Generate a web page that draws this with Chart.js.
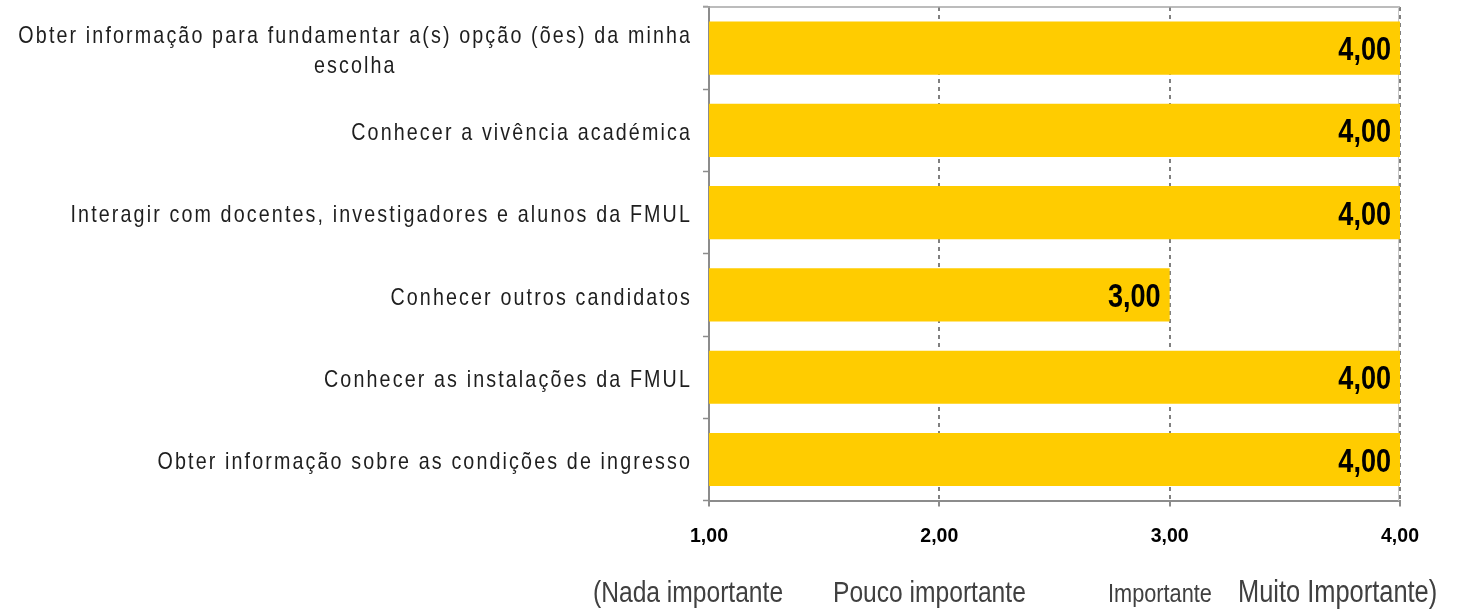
<!DOCTYPE html>
<html>
<head>
<meta charset="utf-8">
<script src="https://cdn.jsdelivr.net/npm/chart.js@4/dist/chart.umd.min.js"></script>
<style>
  html, body { margin: 0; padding: 0; background: #fff; }
  #wrap { width: 1458px; height: 609px; }
</style>
</head>
<body>
<div id="wrap"><canvas id="myChart"></canvas></div>
<script>
// data
const categories = [
    ['Obter informação para fundamentar a(s) opção (ões) da minha', 'escolha'],
    'Conhecer a vivência académica',
    'Interagir com docentes, investigadores e alunos da FMUL',
    'Conhecer outros candidatos',
    'Conhecer as instalações da FMUL',
    'Obter informação sobre as condições de ingresso'
];
const values = [4, 4, 4, 3, 4, 4];
const tickValues = [1, 2, 3, 4];
const scaleNotes = ['(Nada importante', 'Pouco importante', 'Importante', 'Muito Importante)'];

const FONT = '"Liberation Sans", Arial, sans-serif';
const SQUEEZE = 0.82; // no narrow font installed, so squeeze the regular one

function fmt(v) {
    return v.toFixed(2).replace('.', ',');
}

// draw text squeezed horizontally, align is 'left' | 'right' | 'center'
function narrowText(ctx, text, x, y, align) {
    ctx.save();
    ctx.translate(x, y);
    ctx.scale(SQUEEZE, 1);
    ctx.textAlign = align;
    ctx.fillText(text, 0, 0);
    ctx.restore();
}

const categoryLabels = {
    id: 'categoryLabels',
    afterDraw(chart) {
        const ctx = chart.ctx;
        const y = chart.scales.y;
        ctx.save();
        ctx.font = '24px ' + FONT;
        ctx.letterSpacing = '2.6px';
        ctx.fillStyle = '#1e1e1e';
        ctx.textBaseline = 'middle';
        const right = 692;
        categories.forEach((label, i) => {
            const cy = y.getPixelForValue(i) + 3;
            if (Array.isArray(label)) {
                const maxW = Math.max(...label.map(l => ctx.measureText(l + ' ').width)) * SQUEEZE;
                label.forEach((line, j) => {
                    const ly = cy + (j - (label.length - 1) / 2) * 30;
                    narrowText(ctx, line, right + 4 - maxW / 2, ly, 'center');
                });
            } else {
                narrowText(ctx, label, right, cy, 'right');
            }
        });
        ctx.restore();
    }
};

const valueLabels = {
    id: 'valueLabels',
    afterDatasetsDraw(chart) {
        const ctx = chart.ctx;
        const meta = chart.getDatasetMeta(0);
        ctx.save();
        ctx.font = 'bold 33px ' + FONT;
        ctx.fillStyle = '#000';
        ctx.textBaseline = 'middle';
        meta.data.forEach((bar, i) => {
            narrowText(ctx, fmt(values[i]), bar.x - 9, bar.y + 3, 'right');
        });
        ctx.restore();
    }
};

const frame = {
    id: 'frame',
    beforeDatasetsDraw(chart) {
        const ctx = chart.ctx;
        const a = chart.chartArea;
        ctx.save();
        ctx.strokeStyle = '#a6a6a6';
        ctx.lineWidth = 1.5;
        ctx.beginPath();
        ctx.moveTo(a.left - 6, a.top);
        ctx.lineTo(a.right, a.top);
        ctx.stroke();
        ctx.strokeStyle = '#c8c8c8';
        ctx.lineWidth = 1;
        ctx.beginPath();
        ctx.moveTo(a.right - 1.5, a.top);
        ctx.lineTo(a.right - 1.5, a.bottom);
        ctx.stroke();
        ctx.restore();
    }
};

const notes = {
    id: 'notes',
    afterDraw(chart) {
        const ctx = chart.ctx;
        const xs = [593, 833, 1108, 1238];
        const sizes = [30, 30, 26.5, 31];
        ctx.save();
        ctx.fillStyle = '#404040';
        ctx.textBaseline = 'alphabetic';
        scaleNotes.forEach((t, i) => {
            ctx.font = sizes[i] + 'px ' + FONT;
            narrowText(ctx, t, xs[i], 602, 'left');
        });
        ctx.restore();
    }
};

new Chart(document.getElementById('myChart'), {
    type: 'bar',
    data: {
        labels: categories,
        datasets: [{
            data: values,
            backgroundColor: '#ffcc00',
            borderWidth: 0,
            barPercentage: 0.646,
            categoryPercentage: 1
        }]
    },
    options: {
        indexAxis: 'y',
        responsive: true,
        maintainAspectRatio: false,
        animation: false,
        events: [],
        layout: { padding: { left: 703, right: 58, top: 7, bottom: 43 } },
        plugins: {
            legend: { display: false },
            tooltip: { enabled: false }
        },
        scales: {
            x: {
                min: 1,
                max: 4,
                afterBuildTicks: axis => { axis.ticks = tickValues.map(v => ({ value: v })); },
                border: { display: true, color: '#8c8c8c', width: 2, dash: [4, 4] },
                grid: {
                    color: ctx => ctx.tick && ctx.tick.value === 1 ? 'rgba(0,0,0,0)' : '#808080',
                    lineWidth: 2,
                    tickBorderDash: [],
                    tickColor: '#8c8c8c',
                    tickWidth: 2,
                    tickLength: 6,
                    drawTicks: true
                },
                ticks: {
                    padding: 18,
                    color: '#000',
                    font: { family: 'Liberation Sans', size: 19.5, weight: 'bold' },
                    callback: v => fmt(v)
                }
            },
            y: {
                border: { display: true, color: '#8c8c8c', width: 2 },
                grid: {
                    drawOnChartArea: false,
                    drawTicks: true,
                    tickLength: 6,
                    tickColor: '#8c8c8c',
                    tickWidth: 1.5
                },
                ticks: { display: false }
            }
        }
    },
    plugins: [frame, valueLabels, categoryLabels, notes]
});
</script>
</body>
</html>
